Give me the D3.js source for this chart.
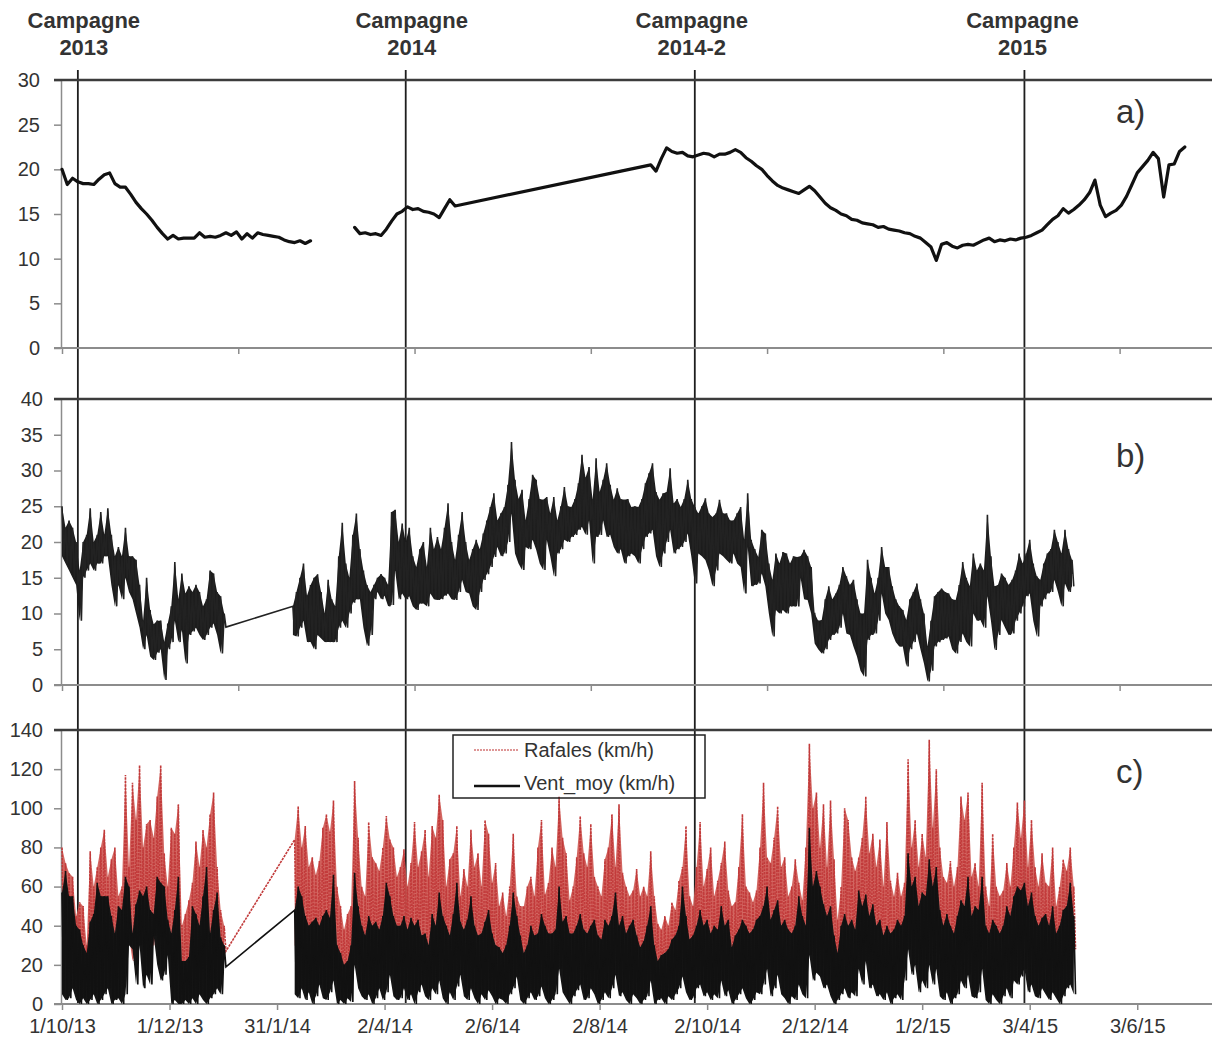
<!DOCTYPE html>
<html>
<head>
<meta charset="utf-8">
<script src="https://cdn.jsdelivr.net/npm/d3@7"></script>
<style>
  html, body { margin: 0; padding: 0; background: #fff; }
  svg { display: block; font-family: "Liberation Sans", Arial, sans-serif; }
</style>
</head>
<body>
<svg id="chart" width="1212" height="1043"></svg>
<script>
// ---------- campaigns ----------
const campaignDates = ["10/10/13", "14/4/14", "25/9/14", "31/3/15"];
const campaignTitles = [["Campagne", "2013"], ["Campagne", "2014"], ["Campagne", "2014-2"], ["Campagne", "2015"]];

// ---------- date axis labels ----------
const dateTickLabels = ["1/10/13", "1/12/13", "31/1/14", "2/4/14", "2/6/14", "2/8/14",
                        "2/10/14", "2/12/14", "1/2/15", "3/4/15", "3/6/15"];
const upperTickLabels = ["1/10/13", "9/1/14", "19/4/14", "28/7/14", "5/11/14", "13/2/15", "24/5/15"];

// ---------- a) water temperature, one value every 3 days ----------
const tempStarts = ["1/10/13", "16/3/14", "31/8/14"];
const tempSeg1 = [20, 18.3, 19.0, 18.6, 18.4, 18.4, 18.3, 18.9, 19.4, 19.6, 18.4, 18.0, 18.0, 17.2, 16.3, 15.6,
  15.0, 14.3, 13.5, 12.8, 12.2, 12.6, 12.2, 12.3, 12.3, 12.3, 12.9, 12.4, 12.5, 12.4, 12.6, 12.9,
  12.6, 13.0, 12.2, 12.8, 12.3, 12.9, 12.7, 12.6, 12.5, 12.4, 12.1, 11.9, 11.8, 12.0, 11.7, 12.0];
const tempSeg2 = [13.5, 12.8, 12.9, 12.7, 12.8, 12.6, 13.3, 14.2, 15.0, 15.3, 15.8, 15.5, 15.6, 15.3,
  15.2, 15.0, 14.6, 15.6, 16.6, 15.9];
const tempSeg3 = [20.5, 19.8, 21.2, 22.4, 22.0, 21.8, 21.9, 21.5, 21.4, 21.6, 21.8, 21.7, 21.4, 21.7, 21.7,
  21.9, 22.2, 21.9, 21.3, 20.9, 20.4, 20.0, 19.3, 18.7, 18.2, 17.9, 17.7, 17.5, 17.3, 17.7, 18.1,
  17.6, 16.9, 16.2, 15.7, 15.4, 15.0, 14.8, 14.4, 14.3, 14.0, 13.9, 13.8, 13.5, 13.6, 13.3, 13.2,
  13.1, 12.9, 12.8, 12.5, 12.3, 11.8, 11.3, 9.8, 11.6, 11.8, 11.4, 11.2, 11.5, 11.6, 11.5, 11.8,
  12.1, 12.3, 11.9, 12.1, 12.0, 12.2, 12.1, 12.3, 12.4, 12.6, 12.9, 13.2, 13.8, 14.4, 14.8, 15.6,
  15.1, 15.5, 16.0, 16.6, 17.4, 18.8, 16.0, 14.7, 15.1, 15.4, 16.0, 17.0, 18.3, 19.6, 20.3, 21.0,
  21.9, 21.2, 16.9, 20.5, 20.6, 22.0, 22.5];

// ---------- b) air temperature, daily high / low every 2 days ----------
const airStarts = ["1/10/13", "9/2/14"];
const airHigh1 = [25, 22, 23, 22, 20, 16, 20, 21, 24.7, 20, 21, 24.2, 21, 24.7, 21, 18, 19.3, 18, 22, 18,
  18, 17.5, 14, 9, 15, 10.5, 8.5, 9, 9, 6, 8.6, 11, 17.2, 12, 15.6, 12.8, 13.8, 13, 14, 13,
  11, 12, 16, 15.6, 13, 12.4, 10];
const airLow1 = [18, 17, 16, 15, 14, 9, 15, 16, 17, 16, 17, 17, 18, 18, 14, 11, 14, 12, 15, 13,
  12, 10, 8, 5, 7, 4, 3.5, 4.5, 5, 0.7, 5, 6, 9, 6, 7.7, 3, 7, 7.5, 8, 7,
  6.3, 7, 8, 8.6, 7, 4.4, 8.1];
const airHigh2 = [11, 13, 15, 17, 12.5, 14, 15, 15.5, 13, 10, 14.7, 12, 11, 18, 22.7, 17, 15, 21, 24, 19,
  16, 14, 13, 14, 15, 15.5, 15, 14, 24.2, 24.5, 20,
  22.6, 20, 22, 18, 16.5, 19, 20, 16.5, 22, 19,
  20.7, 19, 22, 25.4, 20, 17.5, 21, 24.2, 20, 17.5,
  19, 20.3, 19, 21.2, 23, 24.9, 26.8, 23, 24, 24.9,
  28, 34, 28.7, 26, 27.3, 23, 26, 29.4, 28.7, 26,
  25.9, 26.3, 24, 26.3, 23, 25, 27.7, 25, 24.9, 26,
  28.2, 32.2, 29, 30.5, 25.9, 31.7, 27, 28.7, 31, 28,
  25.9, 27.5, 26, 25.9, 26, 24.9, 25, 24.9, 26, 28.2,
  29.6, 31, 27, 25.9, 26.8, 27, 30.3, 25.4, 26, 24.9,
  26, 28.7, 26, 24.9, 24, 25, 26.1, 24, 23.5, 24,
  25.9, 24, 24, 23, 23, 24, 24.9, 20.3, 26.8, 20.3,
  19, 17.9, 21.7, 21.2, 17, 14.7, 18.4, 17, 18.6, 18.4,
  17, 18, 17.9,
  18, 18.9, 18, 16.5, 10, 9, 9.1, 12, 13.8, 12,
  12.8, 14, 16.5, 15.2, 14, 14.7, 12, 10, 10, 17.5,
  15, 12.8, 15, 19.3, 16.5, 16.5, 13.8, 12, 11, 10.5,
  9.1, 12, 13, 14.2, 12, 10, 5.4, 9, 12.4, 13,
  13.5, 13, 12.8, 12, 11.9, 14, 17.2, 15, 13.8, 18.4,
  16, 17, 16, 23.8, 18, 13.8, 14, 15.6, 15, 14,
  14.7, 16, 18.4, 17, 18.4, 20.3, 17, 15.2, 14.7, 17,
  18.4, 19, 21.7, 20, 18.4, 21.7, 19, 17.5];
const airLow2 = [7, 6.8, 8, 9, 6, 6, 5, 7, 6.5, 6, 6, 6, 6, 8, 9, 8, 10, 11.5, 12, 12,
  8, 5.5, 7, 12, 13, 12, 12.5, 11, 11.2, 16, 12,
  12.8, 12, 12.4, 11, 10.5, 11.4, 11.4, 11, 12.8, 12,
  11.9, 12, 12.5, 12.8, 12, 11.9, 13, 14.7, 13, 12.8,
  11, 10.5, 13, 14.7, 15.5, 16.5, 17.9, 19.3, 18, 18.4,
  20, 24, 18.4, 17, 16.1, 19.3, 19, 20.3, 18.9, 17,
  16.1, 20.3, 18, 15.2, 18.4, 19, 20.3, 20, 20.7, 21,
  21.7, 22.1, 21, 23, 17, 20.7, 21, 23, 20.7, 21,
  19.3, 18.4, 19, 17, 18, 18.4, 18, 17, 19, 20.7,
  21.2, 21.7, 18, 16.5, 18.4, 20, 21.7, 18.4, 19, 19.3,
  20, 21.2, 18, 14.2, 18.4, 18, 17.5, 16, 13.8, 16,
  18.4, 18, 17.5, 17, 18.4, 17, 16.5, 12.8, 19.3, 13.8,
  14, 14.2, 15.6, 13.8, 10, 6.8, 10.5, 10, 10.5, 10,
  11, 11, 11,
  15, 12, 11.9, 10, 5.8, 5, 4.4, 5, 6.3, 7,
  7.2, 8, 10, 7.2, 7, 5.4, 4, 2, 1.2, 6.3,
  7, 7.2, 9, 12.8, 10, 9.1, 7.2, 6, 5.4, 5.4,
  2.6, 5, 6, 7.2, 5, 3, 0.5, 2, 5.4, 6,
  6.3, 6.5, 6.8, 5, 4.4, 6, 7.2, 6, 5.4, 10,
  9, 9.1, 8, 12.4, 9, 4.9, 7, 9.1, 8, 7,
  7.2, 9, 10, 11, 12.4, 12.8, 9, 6.8, 11, 12,
  12.8, 13, 14.7, 13, 11, 14.2, 13, 13.8];

// ---------- c) wind (km/h), daily high / low every 2 days ----------
const windStarts = ["1/10/13", "10/2/14"];
const gustHigh1 = [80, 72, 67, 65, 45, 52, 50, 30, 78, 60, 70, 80, 89, 65, 74, 80, 55, 60, 117, 70,
  113, 94, 122, 80, 92, 94, 85, 106, 122, 77, 60, 90, 87, 102, 40, 46, 53, 62, 83, 70,
  89, 80, 97, 108, 70, 48, 40];
const gustLow1 = [20, 30, 25, 30, 22, 18, 15, 12, 25, 28, 35, 30, 32, 30, 25, 20, 28, 25, 40, 35,
  22, 30, 35, 30, 35, 28, 30, 40, 38, 35, 25, 20, 28, 40, 12, 14, 15, 28, 25, 22,
  32, 40, 20, 28, 35, 20, 27];
const meanHigh1 = [57, 68, 55, 55, 40, 38, 30, 26, 42, 46, 62, 55, 55, 55, 45, 36, 50, 48, 65, 60,
  36, 51, 58, 55, 60, 48, 46, 65, 62, 60, 43, 36, 48, 65, 22, 22, 24, 50, 46, 40,
  55, 70, 36, 48, 57, 34, 30];
const meanLow1 = [5, 2, 3, 8, 2, 0, 3, 0, 2, 5, 0, 2, 5, 8, 0, 2, 3, 0, 5, 30,
  28, 10, 30, 8, 15, 10, 35, 20, 12, 15, 25, 0, 2, 0, 0, 2, 0, 3, 0, 5,
  2, 0, 3, 5, 8, 5, 19];
const gustHigh2 = [84, 101, 80, 91, 70, 75, 66, 73, 90, 97, 88, 104, 60, 50, 38, 46, 50, 114, 85, 60,
  55, 93, 75, 72, 68, 80, 96, 84, 80, 65, 70, 79, 60, 72, 93, 70, 78, 89, 65, 91,
  85, 107, 94, 60, 74, 77, 91, 55, 69, 60, 89, 70, 77, 60, 94, 87, 62, 72, 50, 57,
  45, 60, 87, 55, 50, 50, 60, 65, 55, 80, 94, 56, 62, 80, 70, 106, 85, 77, 53, 60,
  75, 96, 77, 70, 92, 65, 60, 55, 74, 80, 97, 70, 102, 67, 60, 55, 58, 69, 55, 60,
  55, 78, 55, 41, 38, 45, 40, 52, 48, 63, 70, 91, 55, 50, 70, 93, 60, 69, 80, 55,
  63, 72, 83, 58, 50, 52, 70, 97, 60, 57, 52, 58, 80, 113, 75, 72, 85, 101, 70, 75,
  55, 60, 74, 62, 53, 80, 133, 100, 108, 80, 102, 70, 104, 74, 43, 60, 100, 94, 75, 68,
  75, 85, 106, 77, 87, 70, 84, 60, 93, 63, 55, 67, 55, 62, 125, 80, 94, 70, 87, 75,
  135, 90, 120, 80, 65, 62, 73, 60, 70, 106, 94, 108, 65, 72, 60, 113, 60, 50, 87, 60,
  55, 58, 72, 60, 80, 103, 85, 104, 70, 94, 70, 60, 77, 62, 60, 80, 50, 60, 74, 68,
  80, 60];
const gustLow2 = [30, 25, 35, 28, 20, 25, 22, 30, 28, 25, 30, 35, 18, 15, 12, 15, 18, 40, 30, 22,
  20, 28, 25, 22, 20, 25, 30, 35, 28, 22, 25, 30, 22, 28, 20, 25, 22, 20, 18, 30,
  25, 35, 28, 20, 22, 30, 25, 40, 22, 25, 35, 25, 20, 22, 25, 30, 20, 18, 16, 15,
  18, 25, 28, 35, 20, 15, 18, 25, 20, 22, 30, 25, 22, 20, 22, 40, 28, 30, 20, 22,
  25, 30, 22, 20, 25, 28, 20, 18, 28, 25, 30, 38, 25, 28, 20, 22, 25, 20, 16, 18,
  25, 30, 18, 12, 14, 15, 16, 20, 22, 25, 38, 28, 20, 22, 25, 30, 25, 28, 22, 25,
  22, 32, 25, 28, 18, 20, 22, 28, 25, 20, 22, 28, 30, 32, 38, 25, 30, 35, 25, 28,
  22, 20, 25, 35, 28, 25, 55, 40, 45, 38, 32, 28, 30, 16, 15, 25, 30, 25, 28, 22,
  38, 32, 35, 28, 32, 25, 28, 20, 25, 22, 24, 28, 22, 35, 50, 38, 42, 30, 35, 32,
  45, 38, 45, 28, 22, 28, 22, 20, 28, 35, 32, 40, 28, 30, 30, 42, 25, 20, 28, 25,
  20, 25, 30, 28, 35, 38, 36, 40, 30, 35, 28, 25, 28, 30, 25, 32, 22, 25, 30, 32,
  38, 28];
const meanHigh2 = [48, 60, 55, 45, 40, 42, 44, 40, 45, 48, 44, 66, 30, 26, 20, 22, 30, 67, 50, 40,
  35, 45, 40, 42, 38, 45, 62, 55, 45, 40, 40, 45, 38, 44, 40, 43, 35, 36, 30, 46,
  40, 57, 45, 40, 35, 46, 62, 42, 38, 43, 55, 40, 35, 36, 42, 48, 36, 30, 29, 26,
  30, 40, 57, 45, 35, 26, 30, 40, 35, 36, 46, 40, 36, 36, 38, 60, 42, 45, 36, 36,
  40, 46, 38, 36, 40, 43, 35, 33, 43, 40, 45, 57, 40, 45, 36, 40, 43, 35, 29, 32,
  40, 50, 30, 22, 25, 26, 28, 33, 35, 40, 60, 45, 33, 35, 40, 48, 40, 43, 36, 40,
  38, 50, 40, 43, 29, 35, 38, 43, 40, 36, 38, 43, 45, 50, 60, 43, 48, 53, 40, 43,
  38, 36, 40, 55, 45, 40, 90, 60, 68, 60, 51, 45, 50, 35, 26, 40, 46, 40, 43, 38,
  58, 50, 56, 45, 51, 40, 43, 35, 40, 36, 38, 43, 40, 45, 77, 60, 65, 50, 57, 55,
  74, 60, 70, 48, 40, 46, 40, 36, 45, 53, 50, 65, 45, 50, 48, 65, 40, 36, 43, 40,
  36, 40, 50, 45, 55, 60, 58, 62, 50, 57, 45, 40, 44, 46, 40, 50, 36, 40, 48, 50,
  62, 45];
const meanLow2 = [5, 3, 8, 2, 6, 0, 4, 10, 3, 2, 6, 12, 0, 2, 0, 3, 1, 20, 8, 4,
  2, 5, 0, 3, 8, 2, 6, 15, 4, 2, 3, 8, 2, 5, 0, 6, 10, 4, 2, 8,
  5, 12, 3, 0, 6, 2, 9, 15, 4, 2, 8, 3, 0, 5, 2, 7, 4, 0, 3, 2,
  0, 5, 8, 14, 2, 0, 3, 6, 2, 4, 9, 3, 0, 2, 5, 18, 6, 3, 0, 4,
  7, 10, 2, 3, 8, 5, 0, 2, 6, 3, 8, 15, 4, 6, 2, 0, 5, 3, 0, 2,
  4, 12, 0, 2, 3, 0, 4, 2, 5, 8, 14, 6, 2, 3, 8, 10, 4, 6, 2, 5,
  3, 12, 4, 7, 0, 2, 5, 8, 3, 0, 2, 6, 5, 10, 18, 4, 8, 15, 5, 3,
  0, 4, 2, 10, 5, 3, 25, 12, 16, 14, 8, 10, 4, 0, 2, 5, 8, 3, 6, 4,
  18, 10, 22, 8, 10, 4, 5, 2, 6, 0, 3, 5, 2, 12, 28, 15, 20, 6, 12, 8,
  20, 10, 18, 4, 2, 6, 0, 3, 5, 12, 8, 15, 4, 3, 6, 18, 2, 0, 5, 2,
  0, 4, 8, 3, 12, 10, 14, 18, 6, 10, 4, 3, 8, 5, 2, 6, 3, 0, 4, 8,
  10, 5];

const legendLabels = ["Rafales (km/h)", "Vent_moy (km/h)"];
const panelLetters = ["a)", "b)", "c)"];

// ---------- layout ----------
const W = 1212;
const svg = d3.select("#chart");
const parse = d3.timeParse("%d/%m/%y");
const x = d3.scaleTime().domain([parse("1/10/13"), parse("2/8/15")]).range([62, 1243]);
const axisLeftX = 61;
const textColor = "#333";
const axisColor = "#8c8c8c";
const gustColor = "#c23b3b";
const gustFill = "#cd5550";

const panels = [
  { top: 80, bottom: 348, max: 30, step: 5, labelRight: 40 },
  { top: 399, bottom: 685, max: 40, step: 5, labelRight: 43 },
  { top: 730, bottom: 1004, max: 140, step: 20, labelRight: 43 }
];
panels.forEach(p => { p.y = d3.scaleLinear().domain([0, p.max]).range([p.bottom, p.top]); });

// series helpers
const everyN = (startLabel, values, n) => values.map((v, i) => ({ date: d3.timeDay.offset(parse(startLabel), n * i), v }));
// hourly records summarised as a high then a low for each sampled day
const highLow = (startLabel, hi, lo) => {
  const start = parse(startLabel), pts = [];
  hi.forEach((h, i) => {
    pts.push({ date: d3.timeDay.offset(start, 2 * i), v: h });
    pts.push({ date: d3.timeDay.offset(start, 2 * i + 1), v: lo[i] });
  });
  return pts;
};
const bandOf = (startLabel, hi, lo) => hi.map((h, i) => ({
  date: d3.timeDay.offset(parse(startLabel), 2 * i), hi: h, lo: lo[i]
}));
const lineFor = y => d3.line().defined(d => d.v != null).x(d => x(d.date)).y(d => y(d.v));
const areaFor = y => d3.area().x(d => x(d.date)).y0(d => y(d.lo)).y1(d => y(d.hi));

// ---------- campaign markers (drawn beneath the series) ----------
const titleShift = [6, 6, -3, -2];
campaignDates.forEach((c, i) => {
  const cx = x(parse(c));
  svg.append("line").attr("x1", cx).attr("x2", cx).attr("y1", 70).attr("y2", 1004)
    .attr("stroke", "#1e1e1e").attr("stroke-width", 1.8);
  const t = svg.append("text").attr("text-anchor", "middle")
    .attr("font-weight", "bold").attr("font-size", 22).attr("fill", textColor);
  t.append("tspan").attr("x", cx + titleShift[i]).attr("y", 28).text(campaignTitles[i][0]);
  t.append("tspan").attr("x", cx + titleShift[i]).attr("y", 55).text(campaignTitles[i][1]);
});

// ---------- axes frames ----------
panels.forEach((p, pi) => {
  const g = svg.append("g");
  const ay = d3.axisLeft(p.y).tickValues(d3.range(0, p.max + 1, p.step)).tickSize(7)
    .tickPadding(axisLeftX - 7 - p.labelRight).tickSizeOuter(0);
  const gy = g.append("g").attr("transform", `translate(${axisLeftX},0)`).call(ay);
  gy.select(".domain").attr("stroke", axisColor).attr("stroke-width", 1.5);
  gy.selectAll(".tick line").attr("stroke", axisColor).attr("stroke-width", 1.5);
  gy.selectAll(".tick text").attr("font-size", 20).attr("fill", textColor)
    .attr("font-family", "Liberation Sans, Arial, sans-serif");
  const tickDates = (pi === 2 ? dateTickLabels : upperTickLabels).map(parse);
  const ax = d3.axisBottom(x).tickValues(tickDates).tickSize(6).tickSizeOuter(0)
    .tickPadding(9).tickFormat(pi === 2 ? d3.timeFormat("%-d/%-m/%y") : () => "");
  const gx = g.append("g").attr("transform", `translate(0,${p.bottom})`).call(ax);
  gx.select(".domain").remove();
  gx.selectAll(".tick line").attr("stroke", axisColor).attr("stroke-width", 1.5);
  gx.selectAll(".tick text").attr("font-size", 20).attr("fill", textColor)
    .attr("font-family", "Liberation Sans, Arial, sans-serif");
  g.append("line").attr("x1", axisLeftX - 7).attr("x2", W).attr("y1", p.bottom).attr("y2", p.bottom)
    .attr("stroke", axisColor).attr("stroke-width", 2);
  g.append("line").attr("x1", axisLeftX - 7).attr("x2", W).attr("y1", p.top).attr("y2", p.top)
    .attr("stroke", "#3c3c3c").attr("stroke-width", 2.5);
  svg.append("text").attr("x", 1116).attr("y", [123, 467, 783][pi]).attr("font-size", 33)
    .attr("fill", textColor).text(panelLetters[pi]);
});

// ---------- a) ----------
const tempPts = everyN(tempStarts[0], tempSeg1, 3)
  .concat([{ date: parse(tempStarts[1]), v: null }])
  .concat(everyN(tempStarts[1], tempSeg2, 3))
  .concat(everyN(tempStarts[2], tempSeg3, 3));
svg.append("path").attr("d", lineFor(panels[0].y)(tempPts))
  .attr("fill", "none").attr("stroke", "#111").attr("stroke-width", 3.2)
  .attr("stroke-linejoin", "round").attr("stroke-linecap", "round");

// ---------- b) ----------
const yB = panels[1].y;
[[airStarts[0], airHigh1, airLow1], [airStarts[1], airHigh2, airLow2]].forEach(([s, hi, lo]) => {
  svg.append("path").attr("d", areaFor(yB)(bandOf(s, hi, lo))).attr("fill", "#1c1c1c");
});
const airPts = highLow(airStarts[0], airHigh1, airLow1).concat(highLow(airStarts[1], airHigh2, airLow2));
svg.append("path").attr("d", lineFor(yB)(airPts))
  .attr("fill", "none").attr("stroke", "#222").attr("stroke-width", 1.6);

// ---------- c) ----------
const yC = panels[2].y;
[[windStarts[0], gustHigh1, gustLow1], [windStarts[1], gustHigh2, gustLow2]].forEach(([s, hi, lo]) => {
  svg.append("path").attr("d", areaFor(yC)(bandOf(s, hi, lo))).attr("fill", gustFill).attr("opacity", 0.9);
});
const gustPts = highLow(windStarts[0], gustHigh1, gustLow1).concat(highLow(windStarts[1], gustHigh2, gustLow2));
svg.append("path").attr("d", lineFor(yC)(gustPts))
  .attr("fill", "none").attr("stroke", gustColor).attr("stroke-width", 1.6)
  .attr("stroke-dasharray", "2.5,1");
[[windStarts[0], meanHigh1, meanLow1], [windStarts[1], meanHigh2, meanLow2]].forEach(([s, hi, lo]) => {
  svg.append("path").attr("d", areaFor(yC)(bandOf(s, hi, lo))).attr("fill", "#141414");
});
const meanPts = highLow(windStarts[0], meanHigh1, meanLow1).concat(highLow(windStarts[1], meanHigh2, meanLow2));
svg.append("path").attr("d", lineFor(yC)(meanPts))
  .attr("fill", "none").attr("stroke", "#111").attr("stroke-width", 1.6);

// ---------- legend ----------
const lg = svg.append("g");
lg.append("rect").attr("x", 453).attr("y", 735).attr("width", 252).attr("height", 63)
  .attr("fill", "none").attr("stroke", "#222").attr("stroke-width", 1.5);
lg.append("line").attr("x1", 474).attr("x2", 518).attr("y1", 750).attr("y2", 750)
  .attr("stroke", gustColor).attr("stroke-width", 1.5).attr("stroke-dasharray", "2,1").attr("opacity", 0.7);
lg.append("line").attr("x1", 474).attr("x2", 520).attr("y1", 786).attr("y2", 786)
  .attr("stroke", "#111").attr("stroke-width", 2.6);
legendLabels.forEach((l, i) => {
  lg.append("text").attr("x", 524).attr("y", [757, 790][i]).attr("font-size", 20)
    .attr("fill", textColor).text(l);
});
</script>
</body>
</html>
